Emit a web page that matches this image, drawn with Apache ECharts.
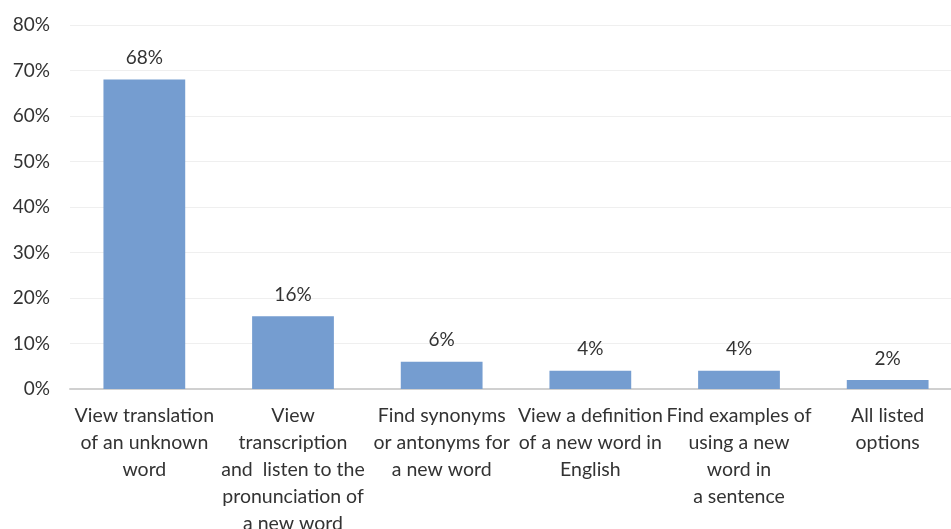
<!DOCTYPE html>
<html><head><meta charset="utf-8">
<script src="https://cdn.jsdelivr.net/npm/echarts@6/dist/echarts.min.js"></script>
<style>html,body{margin:0;padding:0;background:#fff}#c{width:951px;height:529px}</style>
</head><body><div id="c"></div>
<script>
const categories = [
  "View translation\nof an unknown\nword",
  "View\ntranscription\nand  listen to the\npronunciation of\na new word",
  "Find synonyms\nor antonyms for\na new word",
  "View a definition\nof a new word in\nEnglish",
  "Find examples of\nusing a new\nword in\na sentence",
  "All listed\noptions"
];
const values = [68, 16, 6, 4, 4, 2];
const yMin = 0, yMax = 80, yStep = 10;

const font = "Lato, 'Open Sans', sans-serif";
const chart = echarts.init(document.getElementById('c'), null, {renderer: 'canvas'});
chart.setOption({
  animation: false,
  grid: {left: 70, right: -11, top: 25, bottom: 140, containLabel: false, outerBoundsMode: 'none'},
  xAxis: {
    type: 'category',
    data: categories,
    axisLine: {lineStyle: {color: '#d0d0d0', width: 2}},
    axisTick: {show: false},
    axisLabel: {interval: 0, color: '#333', fontFamily: font, fontSize: 19.5, lineHeight: 27, margin: 13}
  },
  yAxis: {
    type: 'value', min: yMin, max: yMax, interval: yStep,
    axisLine: {show: false}, axisTick: {show: false},
    splitLine: {lineStyle: {color: '#efefef', width: 1}},
    axisLabel: {formatter: v => v + '%', color: '#333', fontFamily: font, fontSize: 19, margin: 20}
  },
  series: [{
    type: 'bar',
    data: values,
    barWidth: '55%',
    itemStyle: {color: '#759DD0'},
    label: {show: true, position: 'top', distance: 12, formatter: p => p.value + '%', color: '#333', fontFamily: font, fontSize: 19}
  }]
});
</script></body></html>
